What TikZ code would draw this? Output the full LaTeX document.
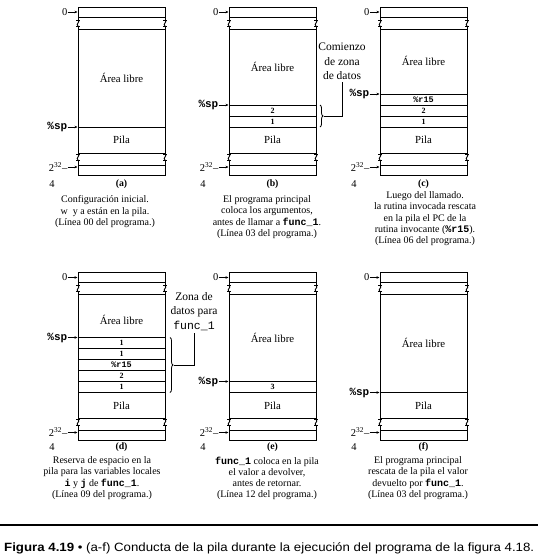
\documentclass[tikz,border=0pt]{standalone}
\usepackage{fontspec}
\setmainfont{Liberation Serif}
\setsansfont{Liberation Sans}
\setmonofont{Liberation Mono}
\usetikzlibrary{arrows.meta,decorations.pathreplacing}
\tikzset{
  wall/.style={line width=0.9pt},
  ptr/.style={line width=0.6pt,-{Stealth[length=3pt,width=2.6pt]}},
  capst/.style={font=\fontsize{10}{11.3}\selectfont, align=center, inner sep=0pt, anchor=north},
  areast/.style={font=\fontsize{10.8}{12}\selectfont, inner sep=0pt},
  cellst/.style={font=\fontsize{8}{9}\selectfont\bfseries, inner sep=0pt},
  regst/.style={font=\fontsize{8.5}{9}\selectfont\ttfamily\bfseries, inner sep=0pt},
  lblst/.style={font=\fontsize{11.5}{14.5}\selectfont, align=center, inner sep=0pt},
  brcst/.style={decorate, decoration={brace, amplitude=3pt}, line width=0.8pt},
  linkst/.style={line width=0.8pt},
  tagst/.style={font=\fontsize{9.8}{11}\selectfont\bfseries, inner sep=0pt},
  numst/.style={font=\fontsize{10.5}{11}\selectfont, inner sep=0pt},
  spst/.style={font=\fontsize{11}{11}\selectfont\ttfamily\bfseries, inner sep=0pt},
}
\newcommand\brkmark[2]{%
  \draw[wall] (#1,#2-3) .. controls (#1+3,#2-1) and (#1-3,#2+1) .. (#1,#2+3);
  \draw[line width=0.5pt] (#1-2,#2-3) -- (#1+2,#2-3) (#1-2,#2+3) -- (#1+2,#2+3);
}
\newcommand\memframe[2]{% left x, top y
  \draw[wall] (#1,#2) rectangle (#1+87,#2+10);
  \draw[wall] (#1,#2+22) -- (#1+87,#2+22);
  \draw[wall] (#1,#2+120) -- (#1+87,#2+120);
  \draw[wall] (#1,#2+146) -- (#1+87,#2+146);
  \draw[wall] (#1,#2+158) rectangle (#1+87,#2+168);
  \foreach \wx in {#1,#1+87} {
    \draw[wall] (\wx,#2+10) -- (\wx,#2+13);
    \brkmark{\wx}{#2+16}
    \draw[wall] (\wx,#2+19) -- (\wx,#2+147);
    \brkmark{\wx}{#2+150}
    \draw[wall] (\wx,#2+153) -- (\wx,#2+158);
  }
}
\newcommand\ptrlab[5]{% name, box left x, y, text, style
  \node[#5, anchor=east] (#1) at (#2-10.5,#3) {#4};
  \coordinate (#1-end) at (#2-0.5,#3);
  \draw[ptr] (#1) -- (#1-end);
}
\begin{document}
\begin{tikzpicture}[x=1pt,y=-1pt]
\fill[white] (0,0) rectangle (538,556);
\useasboundingbox (0,0) rectangle (538,556);

% ---------------- (a)
\memframe{78}{7}
\node[areast] (a-free) at (121.5,78) {Área libre};
\node[areast] (a-pila) at (121.5,140) {Pila};
\ptrlab{a-zero}{78}{12}{0}{numst}
\ptrlab{a-sp}{78}{127}{\%sp}{spst}
\ptrlab{a-hi}{78}{167}{2\textsuperscript{32}–}{numst}
\node[numst] (a-four) at (52,184) {4};
\node[tagst] (a-tag) at (121.5,184) {(a)};
\node[capst] (a-cap) at (105,195.5) {Configuración inicial.\\ w\enspace y a están en la pila.\\ (Línea 00 del programa.)};

% ---------------- (b)
\memframe{229}{7}
\draw[wall] (229,105) -- (316,105);
\draw[wall] (229,116) -- (316,116);
\node[areast] (b-free) at (272.5,67) {Área libre};
\node[cellst] (b-c2) at (272.5,110.5) {2};
\node[cellst] (b-c1) at (272.5,121.5) {1};
\node[areast] (b-pila) at (272.5,140) {Pila};
\ptrlab{b-zero}{229}{12}{0}{numst}
\ptrlab{b-sp}{229}{105}{\%sp}{spst}
\ptrlab{b-hi}{229}{167}{2\textsuperscript{32}–}{numst}
\node[numst] (b-four) at (203,184) {4};
\node[tagst] (b-tag) at (272.5,184) {(b)};
\node[capst] (b-cap) at (267,195.5) {El programa principal\\ coloca los argumentos,\\ antes de llamar a \texttt{\bfseries func\_1}.\\ (Línea 03 del programa.)};
\draw[brcst] (320,105) -- (320,127);
\coordinate (b-tip) at (323.5,116);
\node[lblst, inner ysep=2pt] (b-lab) at (342,61.5) {Comienzo\\ de zona\\ de datos};
\draw[linkst] (b-tip) -| (b-lab.south);

% ---------------- (c)
\memframe{380}{7}
\draw[wall] (380,94) -- (467,94);
\draw[wall] (380,105) -- (467,105);
\draw[wall] (380,116) -- (467,116);
\node[areast] (c-free) at (423.5,61) {Área libre};
\node[regst] (c-c3) at (423.5,99.5) {\%r15};
\node[cellst] (c-c2) at (423.5,110.5) {2};
\node[cellst] (c-c1) at (423.5,121.5) {1};
\node[areast] (c-pila) at (423.5,140) {Pila};
\ptrlab{c-zero}{380}{12}{0}{numst}
\ptrlab{c-sp}{380}{94}{\%sp}{spst}
\ptrlab{c-hi}{380}{167}{2\textsuperscript{32}–}{numst}
\node[numst] (c-four) at (354,184) {4};
\node[tagst] (c-tag) at (423.5,184) {(c)};
\node[capst] (c-cap) at (425,191.5) {Luego del llamado.\\ la rutina invocada rescata\\ en la pila el PC de la\\ rutina invocante (\texttt{\bfseries\%r15}).\\ (Línea 06 del programa.)};

% ---------------- (d)
\memframe{78}{272.5}
\foreach \cy in {337.5,348.5,359.5,370.5,381.5} {\draw[wall] (78,\cy) -- (165,\cy);}
\node[areast] (d-free) at (121.5,320) {Área libre};
\node[cellst] (d-c5) at (121.5,343) {1};
\node[cellst] (d-c4) at (121.5,354) {1};
\node[regst] (d-c3) at (121.5,365) {\%r15};
\node[cellst] (d-c2) at (121.5,376) {2};
\node[cellst] (d-c1) at (121.5,387) {1};
\node[areast] (d-pila) at (121.5,405.5) {Pila};
\ptrlab{d-zero}{78}{277.5}{0}{numst}
\ptrlab{d-sp}{78}{337.5}{\%sp}{spst}
\ptrlab{d-hi}{78}{432.5}{2\textsuperscript{32}–}{numst}
\node[numst] (d-four) at (52,447) {4};
\node[tagst] (d-tag) at (121.5,447) {(d)};
\node[capst] (d-cap) at (102,456.5) {Reserva de espacio en la\\ pila para las variables locales\\ \texttt{\bfseries i} y \texttt{\bfseries j} de \texttt{\bfseries func\_1}.\\ (Línea 09 del programa.)};
\draw[brcst] (170,337.5) -- (170,392.5);
\coordinate (d-tip) at (173.5,365);
\node[lblst, inner ysep=2pt] (d-lab) at (194,311.5) {Zona de\\ datos para\\ \texttt{func\_1}};
\draw[linkst] (d-tip) -| (d-lab.south);

% ---------------- (e)
\memframe{229}{272.5}
\draw[wall] (229,381.5) -- (316,381.5);
\node[areast] (e-free) at (272.5,338) {Área libre};
\node[cellst] (e-c1) at (272.5,387) {3};
\node[areast] (e-pila) at (272.5,405.5) {Pila};
\ptrlab{e-zero}{229}{277.5}{0}{numst}
\ptrlab{e-sp}{229}{381.5}{\%sp}{spst}
\ptrlab{e-hi}{229}{432.5}{2\textsuperscript{32}–}{numst}
\node[numst] (e-four) at (203,447) {4};
\node[tagst] (e-tag) at (272.5,447) {(e)};
\node[capst] (e-cap) at (267,456.5) {\texttt{\bfseries func\_1} coloca en la pila\\ el valor a devolver,\\ antes de retornar.\\ (Línea 12 del programa.)};

% ---------------- (f)
\memframe{380}{272.5}
\node[areast] (f-free) at (423.5,343) {Área libre};
\node[areast] (f-pila) at (423.5,405.5) {Pila};
\ptrlab{f-zero}{380}{277.5}{0}{numst}
\ptrlab{f-sp}{380}{392.5}{\%sp}{spst}
\ptrlab{f-hi}{380}{432.5}{2\textsuperscript{32}–}{numst}
\node[numst] (f-four) at (354,447) {4};
\node[tagst] (f-tag) at (423.5,447) {(f)};
\node[capst] (f-cap) at (418,456.5) {El programa principal\\ rescata de la pila el valor\\ devuelto por \texttt{\bfseries func\_1}.\\ (Línea 03 del programa.)};

% ---------------- figure caption
\draw[line width=1.5pt] (0,525) -- (538,525);
\node[inner sep=0pt, anchor=base west] (figcap) at (4,551.5)
  {\resizebox{530pt}{\height}{\fontsize{12}{13}\selectfont\sffamily\textbf{Figura 4.19} • (a-f) Conducta de la pila durante la ejecución del programa de la figura 4.18.}};
\end{tikzpicture}
\end{document}
